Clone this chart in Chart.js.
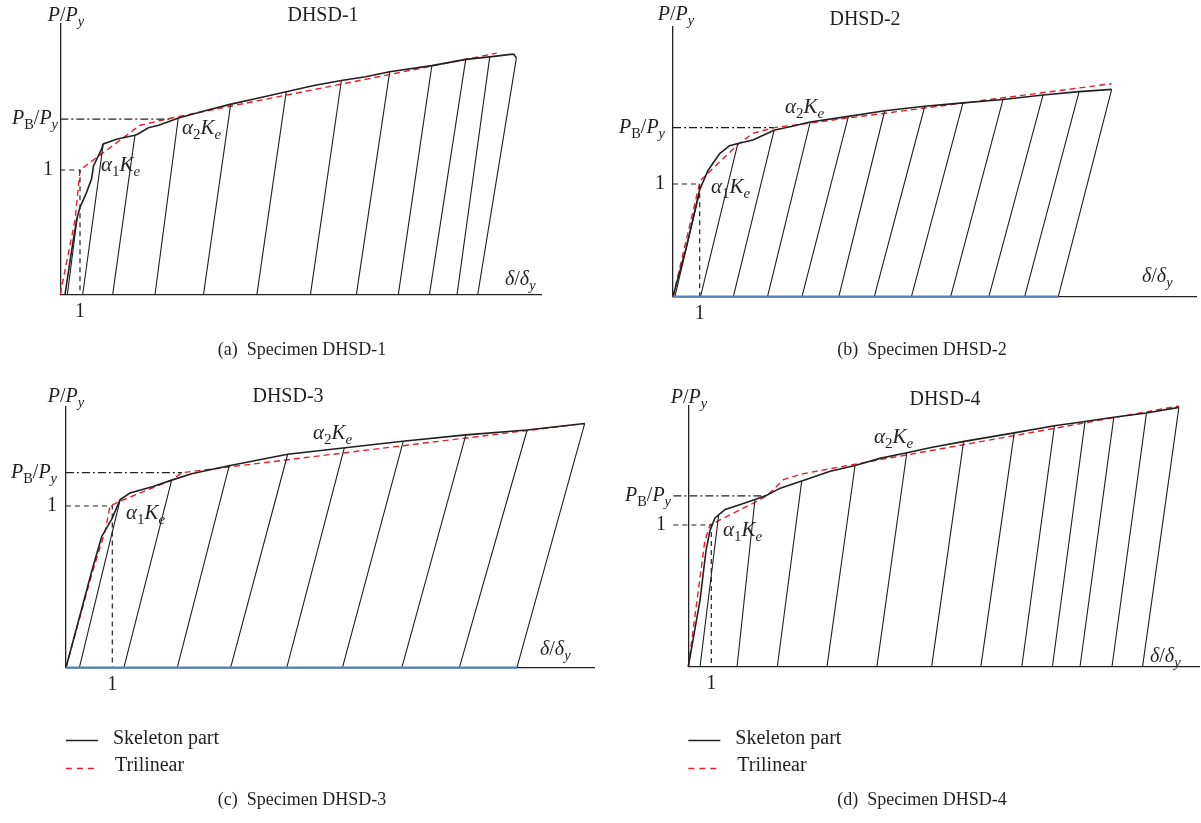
<!DOCTYPE html>
<html>
<head>
<meta charset="utf-8">
<script src="https://cdn.jsdelivr.net/npm/chart.js@4.4.1/dist/chart.umd.min.js"></script>
<style>
  html, body { margin: 0; padding: 0; background: #fff; }
  #wrap { position: relative; width: 1201px; height: 823px; overflow: hidden; background: #fff; }
  #wrap canvas { position: absolute; left: 0; top: 0; }
</style>
</head>
<body>
<div id="wrap">
  <canvas id="cA" width="1201" height="823"></canvas>
  <canvas id="cB" width="1201" height="823"></canvas>
  <canvas id="cC" width="1201" height="823"></canvas>
  <canvas id="cD" width="1201" height="823"></canvas>
</div>
<script>
// ================= DATA (delta/delta_y , P/P_y) =================
// DHSD-1
const skelXA = [0.24,0.66,0.86,1.0,1.31,1.59,1.68,2.10,2.18,2.89,3.79,3.94,4.47,4.99,6.04,7.44,8.67,10.07,11.47,12.87,14.27,15.5,16.72,18.86,20.58,21.8,22.33,22.85,23.03,23.15];
const skelYA = [0,0.44,0.62,0.70,0.81,0.93,1.03,1.17,1.21,1.25,1.28,1.29,1.34,1.36,1.42,1.48,1.53,1.58,1.63,1.68,1.72,1.75,1.79,1.84,1.89,1.91,1.92,1.93,1.93,1.90];
const triXA = [0,0.75,1.0,4.05,5.7,22.15];
const triYA = [0,0.60,1.0,1.36,1.42,1.94];
const unTopXA = [0.86,2.18,3.79,5.99,8.65,11.47,14.27,16.72,18.86,20.58,21.8,23.15];
const unTopYA = [0.62,1.21,1.28,1.42,1.53,1.63,1.72,1.79,1.84,1.89,1.91,1.90];
const unBaseXA = [0.36,1.14,2.66,4.81,7.27,9.98,12.70,15.03,17.16,18.74,20.14,21.19];
const pbA = 1.41, pbEndA = 5.69;

// DHSD-2
const skelXB = [0,0.5,1.0,1.31,1.75,2.12,2.43,2.99,3.81,4.43,5.14,6.57,7.93,9.43,10.86,12.36,13.86,15.21,16.43];
const skelYB = [0,0.44,0.95,1.12,1.27,1.34,1.36,1.39,1.48,1.51,1.55,1.60,1.65,1.69,1.72,1.75,1.79,1.82,1.84];
const triXB = [0,1.02,2.43,2.99,3.79,16.43];
const triYB = [0,1.03,1.35,1.45,1.50,1.89];
const unTopXB = [0.97,2.43,3.79,5.14,6.57,7.93,9.43,10.86,12.36,13.86,15.21,16.43];
const unTopYB = [0.90,1.36,1.48,1.55,1.60,1.65,1.69,1.72,1.75,1.79,1.82,1.84];
const unBaseXB = [0.07,1.03,2.26,3.54,4.83,6.21,7.54,8.93,10.4,11.83,13.17,14.43];
const pbB = 1.50, pbEndB = 3.76, residB = 14.43;

// DHSD-3
const skelXC = [0,0.16,0.56,0.77,0.99,1.17,1.38,1.88,2.28,2.71,3.54,4.78,6.02,7.26,8.62,9.94,11.18];
const skelYC = [0,0.17,0.60,0.81,0.92,1.04,1.08,1.12,1.16,1.20,1.25,1.32,1.36,1.40,1.44,1.47,1.51];
const triXC = [0,0.56,0.85,0.95,1.17,2.28,2.50,11.18];
const triYC = [0,0.58,0.85,1.0,1.03,1.16,1.206,1.51];
const unTopXC = [1.17,2.28,3.52,4.78,6.0,7.27,8.62,9.94,11.18];
const unTopYC = [1.04,1.16,1.25,1.32,1.36,1.40,1.44,1.47,1.51];
const unBaseXC = [0.29,1.25,2.40,3.55,4.76,5.96,7.24,8.48,9.72];
const pbC = 1.206, pbEndC = 2.50, residC = 9.72;

// DHSD-4
const skelXD = [0,0.51,0.77,0.94,1.16,1.60,2.17,2.90,3.41,4.0,4.93,6.17,7.25,8.33,9.5,10.67,12.0,14.17,15.92,17.25,18.5,19.92,21.33];
const skelYD = [0,0.47,0.82,0.96,1.05,1.11,1.14,1.18,1.21,1.26,1.31,1.38,1.42,1.47,1.51,1.55,1.59,1.65,1.70,1.73,1.76,1.79,1.83];
const triXD = [0,0.72,0.94,2.90,3.41,4.14,4.93,6.6,21.33];
const triYD = [0,0.89,1.0,1.16,1.205,1.32,1.36,1.41,1.84];
const unTopXD = [1.32,2.90,4.93,7.25,9.5,11.97,14.17,15.92,17.25,18.5,19.92,21.33];
const unTopYD = [1.07,1.18,1.31,1.42,1.51,1.59,1.65,1.70,1.73,1.76,1.79,1.83];
const unBaseXD = [0.51,2.12,3.87,6.03,8.2,10.58,12.72,14.5,15.83,17.03,18.42,19.75];
const pbD = 1.205, pbEndD = 3.35;

// ================= LAYOUT =================
const SERIF = '"Liberation Serif", "DejaVu Serif", serif';
const INK = '#231f20';
const RED = '#e4202a';

const panels = [
  { id: 'cA', title: 'DHSD-1', caption: '(a)  Specimen DHSD-1',
    skelX: skelXA, skelY: skelYA, triX: triXA, triY: triYA,
    topX: unTopXA, topY: unTopYA, baseX: unBaseXA, pb: pbA, pbEnd: pbEndA, resid: null, g0: 0,
    area: { l: 60.3, t: 24, r: 541, b: 294.3 }, x1px: 80, y1px: 170,
    titleAt: [323, 16], pyAt: [66, 16], dAt: [505, 280], y1Right: 53, pbRight: 58,
    a1At: [101, 165], a2At: [182, 128], capAt: [302, 350], legend: false },
  { id: 'cB', title: 'DHSD-2', caption: '(b)  Specimen DHSD-2',
    skelX: skelXB, skelY: skelYB, triX: triXB, triY: triYB,
    topX: unTopXB, topY: unTopYB, baseX: unBaseXB, pb: pbB, pbEnd: pbEndB, resid: residB, g0: 0,
    area: { l: 673, t: 26.7, r: 1196, b: 296.7 }, x1px: 699.7, y1px: 184,
    titleAt: [865, 20], pyAt: [676, 15], dAt: [1142, 277], y1Right: 665, pbRight: 665,
    a1At: [711, 187], a2At: [785, 107], capAt: [922, 350], legend: false },
  { id: 'cC', title: 'DHSD-3', caption: '(c)  Specimen DHSD-3',
    skelX: skelXC, skelY: skelYC, triX: triXC, triY: triYC,
    topX: unTopXC, topY: unTopYC, baseX: unBaseXC, pb: pbC, pbEnd: pbEndC, resid: residC, g0: 0,
    area: { l: 65.9, t: 406.7, r: 594, b: 667.7 }, x1px: 112.3, y1px: 506,
    titleAt: [288, 397], pyAt: [66, 397], dAt: [540, 650], y1Right: 57, pbRight: 57,
    a1At: [126, 513], a2At: [313, 433], capAt: [302, 800], legend: true },
  { id: 'cD', title: 'DHSD-4', caption: '(d)  Specimen DHSD-4',
    skelX: skelXD, skelY: skelYD, triX: triXD, triY: triYD,
    topX: unTopXD, topY: unTopYD, baseX: unBaseXD, pb: pbD, pbEnd: pbEndD, resid: null, g0: -0.65,
    area: { l: 688.3, t: 406, r: 1199, b: 666.7 }, x1px: 711.3, y1px: 525,
    titleAt: [945, 400], pyAt: [689, 398], dAt: [1150, 657], y1Right: 666, pbRight: 671,
    a1At: [723, 530], a2At: [874, 437], capAt: [922, 800], legend: true }
];

// ================= TEXT HELPERS =================
// parts: [text, kind]  kind: 'i' italic, 'r' roman, 'si' sub italic, 'sr' sub roman
function drawMath(ctx, parts, x, y, size, align) {
  let w = 0;
  const runs = parts.map(([t, k]) => {
    const sub = k[0] === 's';
    const ital = k[k.length - 1] === 'i';
    const fs = sub ? size * 0.72 : size;
    const f = (ital ? 'italic ' : '') + fs.toFixed(1) + 'px ' + SERIF;
    ctx.font = f;
    const tw = ctx.measureText(t).width;
    w += tw;
    return { t, f, tw, dy: sub ? size * 0.32 : 0 };
  });
  let cx = align === 'center' ? x - w / 2 : align === 'right' ? x - w : x;
  ctx.textBaseline = 'middle';
  ctx.textAlign = 'left';
  ctx.fillStyle = INK;
  runs.forEach(o => { ctx.font = o.f; ctx.fillText(o.t, cx, o.dy + y); cx += o.tw; });
}

function drawText(ctx, t, x, y, size, align) {
  ctx.font = size + 'px ' + SERIF;
  ctx.fillStyle = INK;
  ctx.textBaseline = 'middle';
  ctx.textAlign = align;
  ctx.fillText(t, x, y);
}

const annotate = {
  id: 'annotate',
  afterDraw(chart, args, p) {
    const ctx = chart.ctx;
    const xs = chart.scales.x, ys = chart.scales.y;
    const area = chart.chartArea;
    ctx.save();
    drawText(ctx, p.title, p.titleAt[0], p.titleAt[1], 20, 'center');
    drawMath(ctx, [['P','i'],['/','r'],['P','i'],['y','si']], p.pyAt[0], p.pyAt[1], 20, 'center');
    drawMath(ctx, [['δ','i'],['/','r'],['δ','i'],['y','si']], p.dAt[0], p.dAt[1], 20, 'left');
    drawText(ctx, '1', xs.getPixelForValue(1), area.bottom + 17, 20, 'center');
    drawText(ctx, '1', p.y1Right, ys.getPixelForValue(1), 20, 'right');
    drawMath(ctx, [['P','i'],['B','sr'],['/','r'],['P','i'],['y','si']], p.pbRight, ys.getPixelForValue(p.pb), 20, 'right');
    drawMath(ctx, [['α','i'],['1','sr'],['K','i'],['e','si']], p.a1At[0], p.a1At[1], 21, 'left');
    drawMath(ctx, [['α','i'],['2','sr'],['K','i'],['e','si']], p.a2At[0], p.a2At[1], 21, 'left');
    drawText(ctx, p.caption, p.capAt[0], p.capAt[1], 18, 'center');
    if (p.legend) {
      const lx = area.left;
      ctx.lineWidth = 1.5;
      ctx.strokeStyle = INK;
      ctx.setLineDash([]);
      ctx.beginPath(); ctx.moveTo(lx, 740.5); ctx.lineTo(lx + 32, 740.5); ctx.stroke();
      ctx.strokeStyle = RED;
      ctx.setLineDash([6, 5]);
      ctx.beginPath(); ctx.moveTo(lx, 768.5); ctx.lineTo(lx + 32, 768.5); ctx.stroke();
      ctx.setLineDash([]);
      drawText(ctx, 'Skeleton part', lx + 47, 739, 20, 'left');
      drawText(ctx, 'Trilinear', lx + 49, 766, 20, 'left');
    }
    ctx.restore();
  }
};

// ================= CHARTS =================
function pts(xs, ys) {
  return xs.map((x, i) => ({ x: x, y: ys[i] }));
}

function makeChart(p) {
  const unload = [];
  p.topX.forEach((x, i) => {
    unload.push({ x: x, y: p.topY[i] }, { x: p.baseX[i], y: 0 }, { x: p.baseX[i], y: null });
  });

  const datasets = [];
  if (p.resid !== null) {
    datasets.push({ data: [{ x: 0, y: 0 }, { x: p.resid, y: 0 }], borderColor: '#4f81bd', borderWidth: 2.2 });
  }
  datasets.push(
    { data: [{ x: p.g0, y: 1 }, { x: 1, y: 1 }, { x: 1, y: 0 }], borderColor: INK, borderWidth: 1.2, borderDash: [5, 4] },
    { data: [{ x: p.g0, y: p.pb }, { x: p.pbEnd, y: p.pb }], borderColor: INK, borderWidth: 1.2, borderDash: [8, 3, 2, 3] },
    { data: unload, borderColor: INK, borderWidth: 1.1, spanGaps: false },
    { data: pts(p.skelX, p.skelY), borderColor: INK, borderWidth: 1.6 },
    { data: pts(p.triX, p.triY), borderColor: RED, borderWidth: 1.4, borderDash: [6, 4] }
  );
  datasets.forEach(d => { d.pointRadius = 0; d.tension = 0; d.clip = false; d.fill = false; });

  const a = p.area;
  const xMax = (a.r - a.l) / (p.x1px - a.l);
  const yMax = (a.b - a.t) / (a.b - p.y1px);
  const axis = (max) => ({
    type: 'linear', min: 0, max: max, display: true,
    grid: { display: false, drawTicks: false },
    border: { display: true, color: '#222', width: 1.3 },
    ticks: { display: false }
  });

  return new Chart(document.getElementById(p.id), {
    type: 'line',
    data: { datasets: datasets },
    options: {
      responsive: false,
      animation: false,
      devicePixelRatio: 1,
      parsing: true,
      layout: { autoPadding: false, padding: { left: a.l, top: a.t, right: 1201 - a.r, bottom: 823 - a.b } },
      scales: { x: axis(xMax), y: axis(yMax) },
      plugins: { legend: { display: false }, tooltip: { enabled: false }, annotate: p }
    },
    plugins: [annotate]
  });
}

panels.forEach(makeChart);
</script>
</body>
</html>
